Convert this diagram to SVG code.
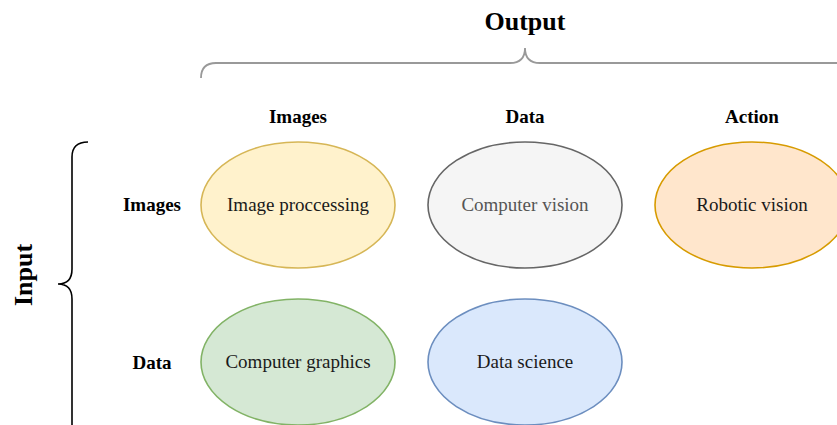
<svg xmlns="http://www.w3.org/2000/svg" width="837" height="425" viewBox="0 0 837 425">
<style>
text{font-family:"Liberation Serif","Times New Roman",serif;text-anchor:middle}
.h{font-weight:bold;font-size:26px}
.l{font-weight:bold;font-size:19px}
.n{font-size:19px;fill:#1a1a1a}
ellipse{stroke-width:1.6}
</style>
<rect width="837" height="425" fill="#fff"/>
<g id="connectors" fill="none">
<path d="M201 78 Q201 63 216 63 L510 63 Q525 63 525 48 Q525 63 540 63 L837 63" stroke="#999999" stroke-width="1.8"/>
<path d="M88 142 Q72 142 72 157 L72 269 Q72 284 58 284 Q72 284 72 299 L72 425" stroke="#000" stroke-width="1.6"/>
</g>
<g id="titles">
<text class="h" x="525" y="30">Output</text>
<text class="h" transform="translate(32 275) rotate(-90)">Input</text>
<text class="l" x="298" y="123">Images</text>
<text class="l" x="525" y="123">Data</text>
<text class="l" x="752" y="123">Action</text>
<text class="l" x="152" y="211">Images</text>
<text class="l" x="152" y="369">Data</text>
</g>
<g id="image-processing">
<ellipse cx="298" cy="205" rx="97" ry="63" fill="#fff2cc" stroke="#d6b656"/>
<text class="n" x="298" y="211">Image proccessing</text>
</g>
<g id="computer-vision">
<ellipse cx="525" cy="205" rx="97" ry="63" fill="#f5f5f5" stroke="#666666"/>
<text class="n" x="525" y="211" style="fill:#555">Computer vision</text>
</g>
<g id="robotic-vision">
<ellipse cx="752" cy="205" rx="97" ry="63" fill="#ffe6cc" stroke="#d79b00"/>
<text class="n" x="752" y="211">Robotic vision</text>
</g>
<g id="computer-graphics">
<ellipse cx="298" cy="362" rx="97" ry="63" fill="#d5e8d4" stroke="#82b366"/>
<text class="n" x="298" y="368">Computer graphics</text>
</g>
<g id="data-science">
<ellipse cx="525" cy="362" rx="97" ry="63" fill="#dae8fc" stroke="#6c8ebf"/>
<text class="n" x="525" y="368">Data science</text>
</g>
</svg>
